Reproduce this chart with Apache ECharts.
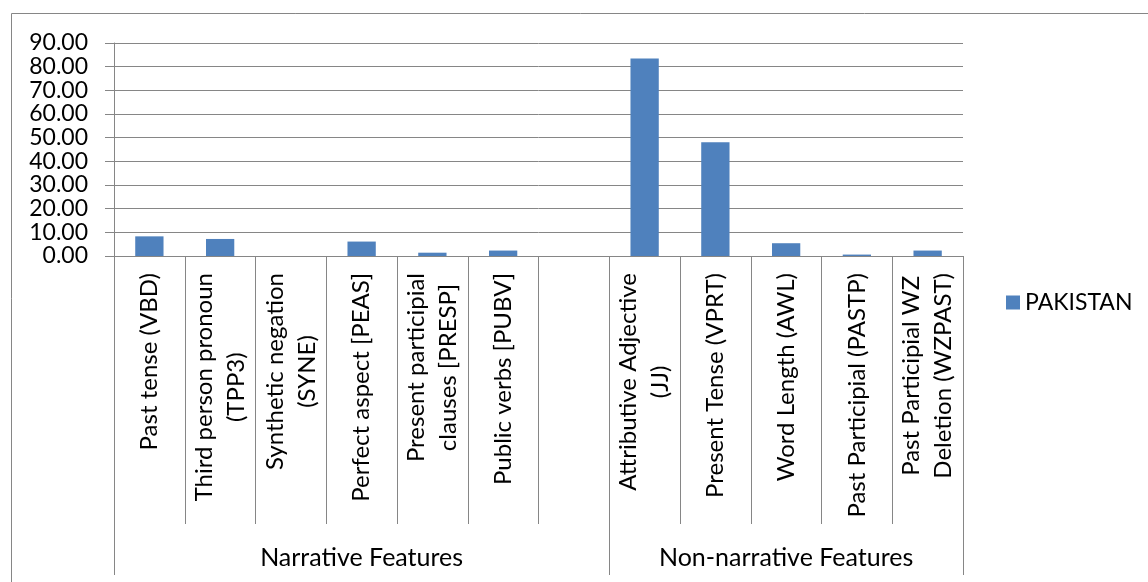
<!DOCTYPE html>
<html>
<head>
<meta charset="utf-8">
<script src="https://cdn.jsdelivr.net/npm/echarts@6/dist/echarts.min.js"></script>
<style>
html,body{margin:0;padding:0;background:#fff;}
#chart{width:1148px;height:582px;}
</style>
</head>
<body>
<div id="chart"></div>
<script>
// ---- data ----
const categories = [
  'Past tense (VBD)',
  'Third person pronoun\n(TPP3)',
  'Synthetic negation\n(SYNE)',
  'Perfect aspect [PEAS]',
  'Present participial\nclauses [PRESP]',
  'Public verbs [PUBV]',
  '',
  'Attributive Adjective\n(JJ)',
  'Present Tense (VPRT)',
  'Word Length (AWL)',
  'Past Participial (PASTP)',
  'Past Participial WZ\nDeletion (WZPAST)'
];
const pakistan = [8.3, 7.2, 0, 6.1, 1.4, 2.3, null, 83.4, 48.1, 5.4, 0.6, 2.3];
const groupNames = ['Narrative Features', 'Non-narrative Features'];
const groupSizes = [7, 5];
const seriesName = 'PAKISTAN';
const yTicks = [0, 10, 20, 30, 40, 50, 60, 70, 80, 90];

// ---- build group axis ----
const groupSlots = [];
const groupStarts = [];
let pos = 0;
groupNames.forEach(function (name, gi) {
  const size = groupSizes[gi];
  groupStarts.push(pos);
  for (let k = 0; k < size; k++) {
    groupSlots.push(k === Math.floor((size - 1) / 2) ? name : '');
  }
  pos += size;
});

const FONT = 'Lato';
const FS = 24;
const GRAY = '#868686';

const chart = echarts.init(document.getElementById('chart'), null, {renderer: 'canvas'});
chart.setOption({
  animation: false,
  backgroundColor: '#ffffff',
  graphic: [{
    type: 'rect',
    shape: {x: 11.5, y: 13.5, width: 1300, height: 700},
    style: {fill: 'none', stroke: GRAY, lineWidth: 1},
    silent: true,
    z: -10
  }],
  grid: {left: 114, right: 185, top: 43, bottom: 326, containLabel: false},
  legend: {
    data: [seriesName],
    orient: 'vertical',
    left: 1006,
    top: 291,
    padding: 0,
    itemWidth: 14,
    itemHeight: 14,
    icon: 'rect',
    textStyle: {fontFamily: FONT, fontSize: 23, color: '#000'}
  },
  xAxis: [{
    type: 'category',
    data: categories,
    position: 'bottom',
    axisLine: {show: true, lineStyle: {color: GRAY, width: 1}},
    axisTick: {show: true, interval: 0, length: 268, lineStyle: {color: GRAY, width: 1}},
    splitLine: {show: false},
    axisLabel: {
      interval: 0,
      rotate: 90,
      margin: 17,
      color: '#000',
      fontFamily: FONT,
      fontSize: FS,
      lineHeight: 32,
      formatter: function (v) {
        if (!v) return '';
        return v.split('\n').map(function (l) { return '{c|' + l + '}'; }).join('\n');
      },
      rich: {
        c: {align: 'center', fontFamily: FONT, fontSize: FS, lineHeight: 32, color: '#000'}
      }
    }
  }, {
    type: 'category',
    data: groupSlots,
    position: 'bottom',
    offset: 0,
    axisLine: {show: false},
    axisTick: {
      show: true,
      length: 319,
      interval: function (idx) { return groupStarts.indexOf(idx) >= 0; },
      lineStyle: {color: GRAY, width: 1}
    },
    splitLine: {show: false},
    axisLabel: {
      interval: 0,
      margin: 289,
      color: '#000',
      fontFamily: FONT,
      fontSize: 25
    }
  }],
  yAxis: {
    type: 'value',
    min: yTicks[0],
    max: yTicks[yTicks.length - 1],
    interval: yTicks[1] - yTicks[0],
    axisLine: {show: true, lineStyle: {color: GRAY, width: 1}},
    axisTick: {show: true, length: 9, lineStyle: {color: GRAY, width: 1}},
    splitLine: {show: true, lineStyle: {color: GRAY, width: 1}},
    axisLabel: {
      margin: 26,
      color: '#000',
      fontFamily: FONT,
      fontSize: 23,
      showMinLabel: true,
      showMaxLabel: true,
      hideOverlap: false,
      formatter: function (v) { return v.toFixed(2); }
    }
  },
  series: [{
    name: seriesName,
    type: 'bar',
    xAxisIndex: 0,
    data: pakistan,
    barWidth: '40%',
    itemStyle: {color: '#4F81BD'}
  }]
});
</script>
</body>
</html>
